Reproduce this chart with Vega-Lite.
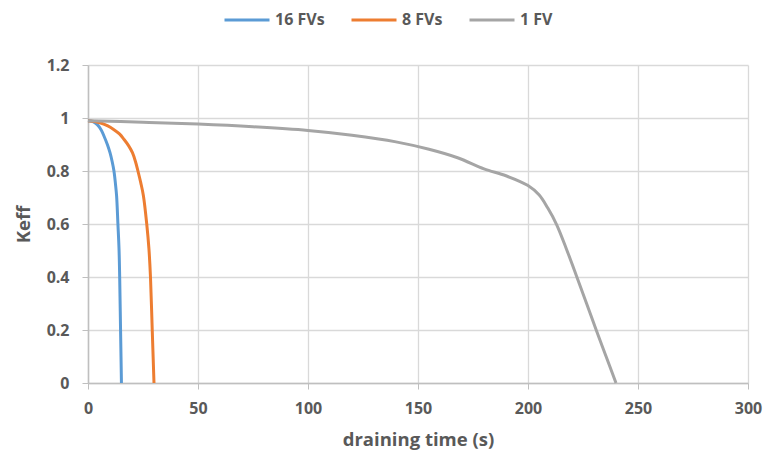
{
  "$schema": "https://vega.github.io/schema/vega-lite/v6.json",
  "width": 660,
  "height": 318,
  "autosize": "none",
  "padding": {"left": 88, "top": 65, "right": 17, "bottom": 74},
  "background": "white",
  "config": {
    "view": {"stroke": null},
    "font": "Open Sans"
  },
  "data": {
    "values": [
      {"series": "16 FVs", "t": 0, "k": 0.99},
      {"series": "16 FVs", "t": 2, "k": 0.987},
      {"series": "16 FVs", "t": 4.2, "k": 0.975},
      {"series": "16 FVs", "t": 6, "k": 0.955},
      {"series": "16 FVs", "t": 7.3, "k": 0.931},
      {"series": "16 FVs", "t": 8.8, "k": 0.9},
      {"series": "16 FVs", "t": 10, "k": 0.869},
      {"series": "16 FVs", "t": 11, "k": 0.835},
      {"series": "16 FVs", "t": 11.8, "k": 0.8},
      {"series": "16 FVs", "t": 12.5, "k": 0.75},
      {"series": "16 FVs", "t": 13, "k": 0.706},
      {"series": "16 FVs", "t": 13.6, "k": 0.6},
      {"series": "16 FVs", "t": 14.1, "k": 0.506},
      {"series": "16 FVs", "t": 14.4, "k": 0.4},
      {"series": "16 FVs", "t": 14.8, "k": 0.2},
      {"series": "16 FVs", "t": 15.2, "k": 0},
      {"series": "8 FVs", "t": 0, "k": 0.99},
      {"series": "8 FVs", "t": 3, "k": 0.987},
      {"series": "8 FVs", "t": 5.8, "k": 0.981},
      {"series": "8 FVs", "t": 9, "k": 0.97},
      {"series": "8 FVs", "t": 11.8, "k": 0.956},
      {"series": "8 FVs", "t": 14.3, "k": 0.94},
      {"series": "8 FVs", "t": 16.4, "k": 0.919},
      {"series": "8 FVs", "t": 18.5, "k": 0.895},
      {"series": "8 FVs", "t": 20.2, "k": 0.869},
      {"series": "8 FVs", "t": 21.6, "k": 0.835},
      {"series": "8 FVs", "t": 22.7, "k": 0.8},
      {"series": "8 FVs", "t": 24, "k": 0.755},
      {"series": "8 FVs", "t": 25.2, "k": 0.706},
      {"series": "8 FVs", "t": 26.7, "k": 0.6},
      {"series": "8 FVs", "t": 27.7, "k": 0.506},
      {"series": "8 FVs", "t": 28.4, "k": 0.4},
      {"series": "8 FVs", "t": 29.2, "k": 0.2},
      {"series": "8 FVs", "t": 30, "k": 0},
      {"series": "1 FV", "t": 0, "k": 0.99},
      {"series": "1 FV", "t": 25, "k": 0.984},
      {"series": "1 FV", "t": 50, "k": 0.977},
      {"series": "1 FV", "t": 75, "k": 0.967},
      {"series": "1 FV", "t": 100, "k": 0.953},
      {"series": "1 FV", "t": 120, "k": 0.935},
      {"series": "1 FV", "t": 140, "k": 0.91},
      {"series": "1 FV", "t": 155, "k": 0.882},
      {"series": "1 FV", "t": 168, "k": 0.85},
      {"series": "1 FV", "t": 180, "k": 0.808},
      {"series": "1 FV", "t": 190, "k": 0.782},
      {"series": "1 FV", "t": 200, "k": 0.745},
      {"series": "1 FV", "t": 205, "k": 0.71},
      {"series": "1 FV", "t": 209, "k": 0.66},
      {"series": "1 FV", "t": 213, "k": 0.598},
      {"series": "1 FV", "t": 217.5, "k": 0.505},
      {"series": "1 FV", "t": 222, "k": 0.405},
      {"series": "1 FV", "t": 226.5, "k": 0.303},
      {"series": "1 FV", "t": 231, "k": 0.2},
      {"series": "1 FV", "t": 235.5, "k": 0.1},
      {"series": "1 FV", "t": 240, "k": 0}
    ]
  },
  "mark": {"type": "line", "strokeWidth": 3, "interpolate": "catmull-rom"},
  "encoding": {
    "x": {
      "field": "t", "type": "quantitative",
      "scale": {"domain": [0, 300], "nice": false},
      "axis": {
        "title": "draining time (s)", "values": [0, 50, 100, 150, 200, 250, 300],
        "titleFontSize": 18.5, "titleFontWeight": "bold", "titleColor": "#595959", "titlePadding": 14,
        "labelFontSize": 16, "labelFontWeight": "bold", "labelColor": "#595959", "labelPadding": 11,
        "labelFlush": false,
        "gridColor": "#d9d9d9", "gridWidth": 1.3, "domainColor": "#bfbfbf", "domainWidth": 1.5,
        "tickColor": "#bfbfbf", "tickSize": 6
      }
    },
    "y": {
      "field": "k", "type": "quantitative",
      "scale": {"domain": [0, 1.2], "nice": false},
      "axis": {
        "title": "Keff", "values": [0, 0.2, 0.4, 0.6, 0.8, 1, 1.2], "format": "~g",
        "titleFontSize": 18.5, "titleFontWeight": "bold", "titleColor": "#595959", "titlePadding": 13,
        "labelFontSize": 16, "labelFontWeight": "bold", "labelColor": "#595959", "labelPadding": 13,
        "labelFlush": false,
        "gridColor": "#d9d9d9", "gridWidth": 1.3, "domainColor": "#bfbfbf", "domainWidth": 1.5,
        "tickColor": "#bfbfbf", "tickSize": 6
      }
    },
    "color": {
      "field": "series", "type": "nominal",
      "sort": ["16 FVs", "8 FVs", "1 FV"],
      "scale": {"domain": ["16 FVs", "8 FVs", "1 FV"], "range": ["#5B9BD5", "#ED7D31", "#A5A5A5"]},
      "legend": {
        "title": null, "orient": "none", "direction": "horizontal",
        "legendX": 135, "legendY": -69,
        "symbolType": "stroke", "symbolSize": 2025, "symbolStrokeWidth": 3,
        "labelFontSize": 16, "labelFontWeight": "bold", "labelColor": "#595959",
        "columnPadding": 20, "labelOffset": 4
      }
    }
  }
}
